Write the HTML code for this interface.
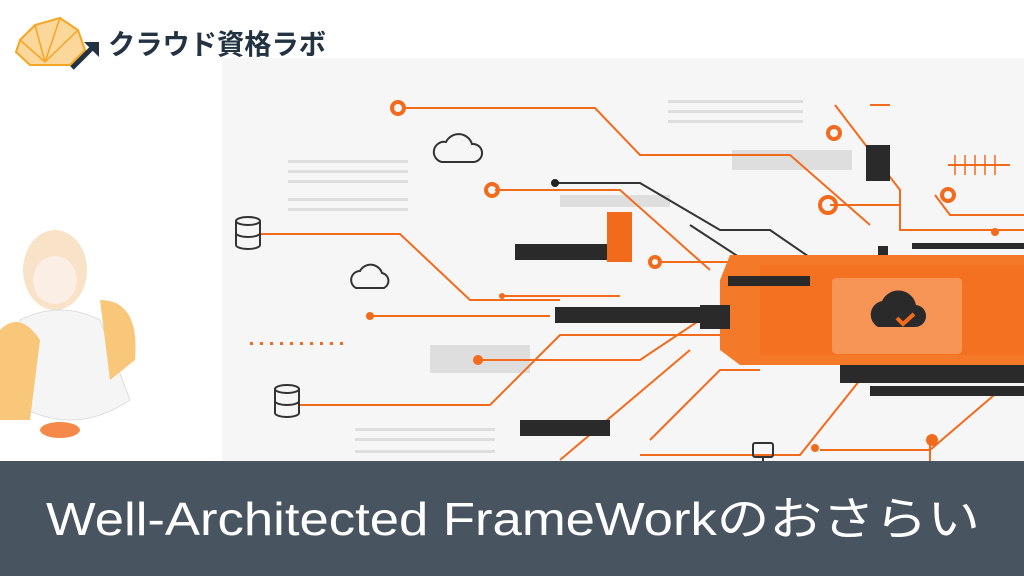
<!DOCTYPE html>
<html><head><meta charset="utf-8"><style>
html,body{margin:0;padding:0;width:1024px;height:576px;overflow:hidden;background:#fff}
svg{display:block}
</style></head><body>
<svg width="1024" height="576" viewBox="0 0 1024 576" xmlns="http://www.w3.org/2000/svg">
<rect width="1024" height="576" fill="#fff"/>
<rect x="222" y="58" width="802" height="410" fill="#f6f6f6"/>
<g fill="#dedede">
<rect x="732" y="150" width="120" height="20"/><rect x="430" y="345" width="100" height="28"/>
<rect x="560" y="195" width="110" height="12"/><rect x="288" y="160" width="120" height="3"/><rect x="288" y="170" width="120" height="3"/><rect x="288" y="180" width="120" height="3"/><rect x="288" y="198" width="120" height="3"/><rect x="288" y="208" width="120" height="3"/>
<rect x="668" y="100" width="135" height="3"/><rect x="668" y="110" width="135" height="3"/><rect x="668" y="120" width="135" height="3"/>
<rect x="355" y="428" width="140" height="3"/><rect x="355" y="438" width="140" height="3"/><rect x="355" y="450" width="140" height="3"/>
</g>
<g stroke="#f26b1d" stroke-width="2" fill="none">
<path d="M405 108 H595 L640 155 H790 L870 225"/>
<path d="M495 190 H620 L710 270"/>
<path d="M260 234 H400 L470 300 H560"/>
<path d="M500 296 H620"/>
<path d="M370 316 H550"/>
<path d="M300 405 H490 L560 335 H720"/>
<path d="M480 360 H640 L700 320"/>
<path d="M835 105 L900 190 V230 H1024"/>
<path d="M830 205 H900"/>
<path d="M935 195 L950 215 H1024"/>
<path d="M660 262 H730"/>
<path d="M650 440 L720 370 H760"/>
<path d="M560 460 L690 350"/>
<path d="M640 455 H800 L860 380"/>
<path d="M820 450 H930 L1000 390"/>
<path d="M930 440 V470"/>
<path d="M870 105 H890"/>
<path d="M948 165 H1010"/>
</g>
<g stroke="#333" stroke-width="2" fill="none">
<path d="M555 183 H640 L720 230 H770 L850 285"/>
<path d="M690 225 L820 310"/>
</g>
<g stroke="#f26b1d" stroke-width="1.5">
<line x1="955" y1="155" x2="955" y2="175"/><line x1="965" y1="155" x2="965" y2="175"/><line x1="975" y1="155" x2="975" y2="175"/><line x1="985" y1="155" x2="985" y2="175"/><line x1="995" y1="155" x2="995" y2="175"/>
</g>
<g fill="none" stroke="#f26b1d" stroke-width="4">
<circle cx="398" cy="108" r="6"/><circle cx="492" cy="190" r="6"/><circle cx="834" cy="133" r="6"/><circle cx="828" cy="205" r="8"/><circle cx="948" cy="195" r="6"/><circle cx="655" cy="262" r="5"/>
</g>
<g fill="#f26b1d">
<circle cx="370" cy="316" r="4"/><circle cx="478" cy="360" r="5"/><circle cx="932" cy="440" r="6"/><circle cx="995" cy="232" r="4"/><circle cx="502" cy="296" r="3"/><circle cx="815" cy="448" r="4"/>
</g>
<g fill="#f26b1d"><rect x="250" y="342" width="3" height="3"/><rect x="260" y="342" width="3" height="3"/><rect x="270" y="342" width="3" height="3"/><rect x="280" y="342" width="3" height="3"/><rect x="290" y="342" width="3" height="3"/><rect x="300" y="342" width="3" height="3"/><rect x="310" y="342" width="3" height="3"/><rect x="320" y="342" width="3" height="3"/><rect x="330" y="342" width="3" height="3"/><rect x="340" y="342" width="3" height="3"/></g>
<circle cx="555" cy="183" r="4" fill="#222"/>
<g fill="#2a2a2a">
<rect x="515" y="244" width="110" height="16"/><rect x="555" y="307" width="160" height="16"/><rect x="520" y="420" width="90" height="16"/>
<rect x="866" y="145" width="24" height="36"/><rect x="912" y="243" width="112" height="6"/><rect x="878" y="246" width="10" height="10"/>
<rect x="840" y="365" width="184" height="18"/><rect x="870" y="386" width="154" height="10"/>
</g>
<rect x="607" y="212" width="25" height="50" fill="#f26b1d"/>
<path d="M730 255 H1024 V365 H740 L720 350 V280 Z" fill="#f47a2a"/>
<rect x="760" y="265" width="264" height="90" fill="#f26b1d" opacity="0.6"/>
<rect x="728" y="276" width="82" height="10" fill="#2a2a2a"/>
<rect x="700" y="305" width="30" height="24" fill="#2a2a2a"/>
<rect x="832" y="278" width="130" height="76" rx="4" fill="#f79556"/>
<path d="M878 327 a14 14 0 0 1 4-26 a18 18 0 0 1 34 4 a11 11 0 0 1 -2 22 Z" fill="#2a2a2a"/>
<path d="M897 318 l6 6 l11-10" stroke="#f26b1d" stroke-width="4" fill="none"/>
<g stroke="#333" stroke-width="2" fill="none">
<path d="M442 162 a10 10 0 0 1 4-20 a14 14 0 0 1 26 2 a9 9 0 0 1 2 18 Z"/>
<path d="M356 288 a9 9 0 0 1 4-17 a12 12 0 0 1 22 2 a8 8 0 0 1 2 15 Z"/>
<ellipse cx="248" cy="221" rx="12" ry="4"/><path d="M236 221 V245 A12 4 0 0 0 260 245 V221 M236 233 A12 4 0 0 0 260 233"/>
<ellipse cx="287" cy="389" rx="12" ry="4"/><path d="M275 389 V413 A12 4 0 0 0 299 413 V389 M275 401 A12 4 0 0 0 299 401"/>
<rect x="753" y="443" width="20" height="14" rx="2"/><path d="M763 457 V480"/>
</g>
<g>
<ellipse cx="55" cy="270" rx="32" ry="40" fill="#f8e3c8"/>
<ellipse cx="55" cy="280" rx="22" ry="24" fill="#fbeee4"/>
<path d="M20 320 Q60 300 100 320 L130 400 Q70 440 10 400 Z" fill="#f5f5f5" stroke="#ddd"/>
<path d="M0 330 Q20 310 40 340 L30 420 L0 420 Z" fill="#f8c77a"/>
<path d="M100 300 Q140 300 135 360 L110 380 Z" fill="#f8c77a"/>
<ellipse cx="60" cy="430" rx="20" ry="8" fill="#f26b1d" opacity="0.8"/>
</g>
<g>
<path d="M20 40 L35 25 L60 18 L78 30 L85 50 L70 65 L30 65 L16 52 Z" fill="#fbd79b" stroke="#f5a623" stroke-width="2"/>
<path d="M35 25 L45 62 M60 18 L45 62 M20 40 L45 62 M78 30 L45 62" stroke="#f5a623" stroke-width="1.5"/>
<path d="M72 68 L92 48" stroke="#243342" stroke-width="5"/><path d="M84 42 H99 V57 Z" fill="#243342"/>
<text x="108" y="54" textLength="218" lengthAdjust="spacingAndGlyphs" font-family="'Liberation Sans','Noto Sans CJK JP',sans-serif" font-size="28" font-weight="bold" fill="#243342">クラウド資格ラボ</text>
</g>
<rect x="0" y="461" width="1024" height="115" fill="#495461"/>
<text x="46" y="535" textLength="934" lengthAdjust="spacingAndGlyphs" font-family="'Liberation Sans','Noto Sans CJK JP',sans-serif" font-size="46" fill="#fff">Well-Architected FrameWorkのおさらい</text>
</svg>
</body></html>
